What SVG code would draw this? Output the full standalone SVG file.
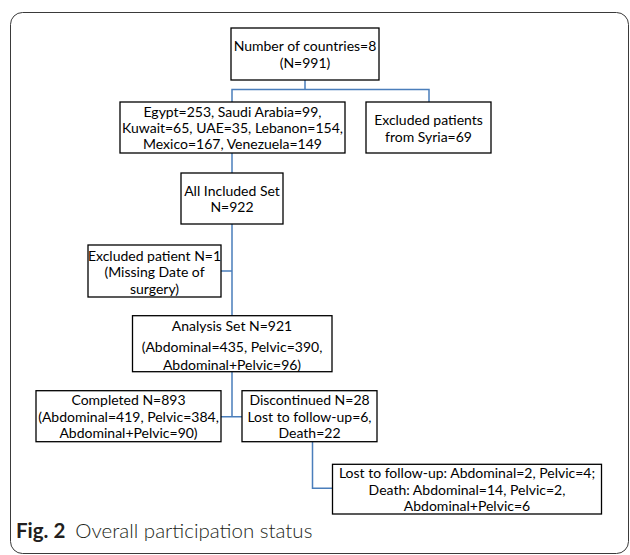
<svg xmlns="http://www.w3.org/2000/svg" width="630" height="555" viewBox="0 0 630 555">
<style>
.box{fill:#fff;stroke:#000;stroke-width:1.3}
.t{font-family:Lato,"Liberation Sans",sans-serif;font-size:14px;fill:#000;text-anchor:middle;dominant-baseline:central}
.c{fill:none;stroke:#4a7ebb;stroke-width:1.5}
.cap{font-family:Lato,"Liberation Sans",sans-serif;font-size:20.5px;fill:#231f20}
</style>
<rect x="0" y="0" width="630" height="555" fill="#fff"/>
<rect x="10.5" y="12.5" width="618" height="541" rx="12" fill="none" stroke="#3a3a3a" stroke-width="1"/>
<g id="connectors">
<path class="c" d="M305 80 V89.5 M232 102 V89.5 H429 V102"/>
<path class="c" d="M232 153 V173"/>
<path class="c" d="M232 224 V316 M221 271 H232"/>
<path class="c" d="M232 372 V416.7 M221 416.7 H242"/>
<path class="c" d="M312.5 441.7 V488.3 H332.5"/>
</g>
<g id="n1"><rect class="box" x="231" y="28" width="148" height="52"/>
<text class="t" x="305" y="45.7">Number of countries=8</text><text class="t" x="305" y="62.3">(N=991)</text></g>
<g id="n2"><rect class="box" x="120" y="102" width="225" height="51"/>
<text class="t" x="232.5" y="111">Egypt=253, Saudi Arabia=99,</text>
<text class="t" x="232.5" y="127">Kuwait=65, UAE=35, Lebanon=154,</text>
<text class="t" x="232.5" y="143">Mexico=167, Venezuela=149</text></g>
<g id="n3"><rect class="box" x="366" y="102" width="125" height="51"/>
<text class="t" x="428.5" y="119">Excluded patients</text>
<text class="t" x="428.5" y="136.7">from Syria=69</text></g>
<g id="n4"><rect class="box" x="181" y="173" width="102" height="51"/>
<text class="t" x="232" y="190.7">All Included Set</text>
<text class="t" x="232" y="206.7">N=922</text></g>
<g id="n5"><rect class="box" x="88" y="245" width="133" height="52"/>
<text class="t" x="154.5" y="255">Excluded patient N=1</text>
<text class="t" x="154.5" y="271.3">(Missing Date of</text>
<text class="t" x="154.5" y="288.3">surgery)</text></g>
<g id="n6"><rect class="box" x="132.5" y="315.7" width="199.5" height="56"/>
<text class="t" x="232" y="325">Analysis Set N=921</text>
<text class="t" x="232" y="346.7">(Abdominal=435, Pelvic=390,</text>
<text class="t" x="232" y="364">Abdominal+Pelvic=96)</text></g>
<g id="n7"><rect class="box" x="36" y="390.7" width="185" height="51"/>
<text class="t" x="128.5" y="399.3">Completed N=893</text>
<text class="t" x="128.5" y="416.7">(Abdominal=419, Pelvic=384,</text>
<text class="t" x="128.5" y="432.7">Abdominal+Pelvic=90)</text></g>
<g id="n8"><rect class="box" x="242" y="390.7" width="135" height="51"/>
<text class="t" x="309.5" y="399.3">Discontinued N=28</text>
<text class="t" x="309.5" y="416.7">Lost to follow-up=6,</text>
<text class="t" x="309.5" y="432.7">Death=22</text></g>
<g id="n9"><rect class="box" x="332.5" y="464.3" width="269" height="49.7"/>
<text class="t" x="467" y="472.5">Lost to follow-up: Abdominal=2, Pelvic=4;</text>
<text class="t" x="467" y="489">Death: Abdominal=14, Pelvic=2,</text>
<text class="t" x="467" y="505.5">Abdominal+Pelvic=6</text></g>
<text class="cap" x="16" y="538"><tspan font-weight="bold">Fig. 2</tspan><tspan dx="10" font-weight="300">Overall participation status</tspan></text>
</svg>
